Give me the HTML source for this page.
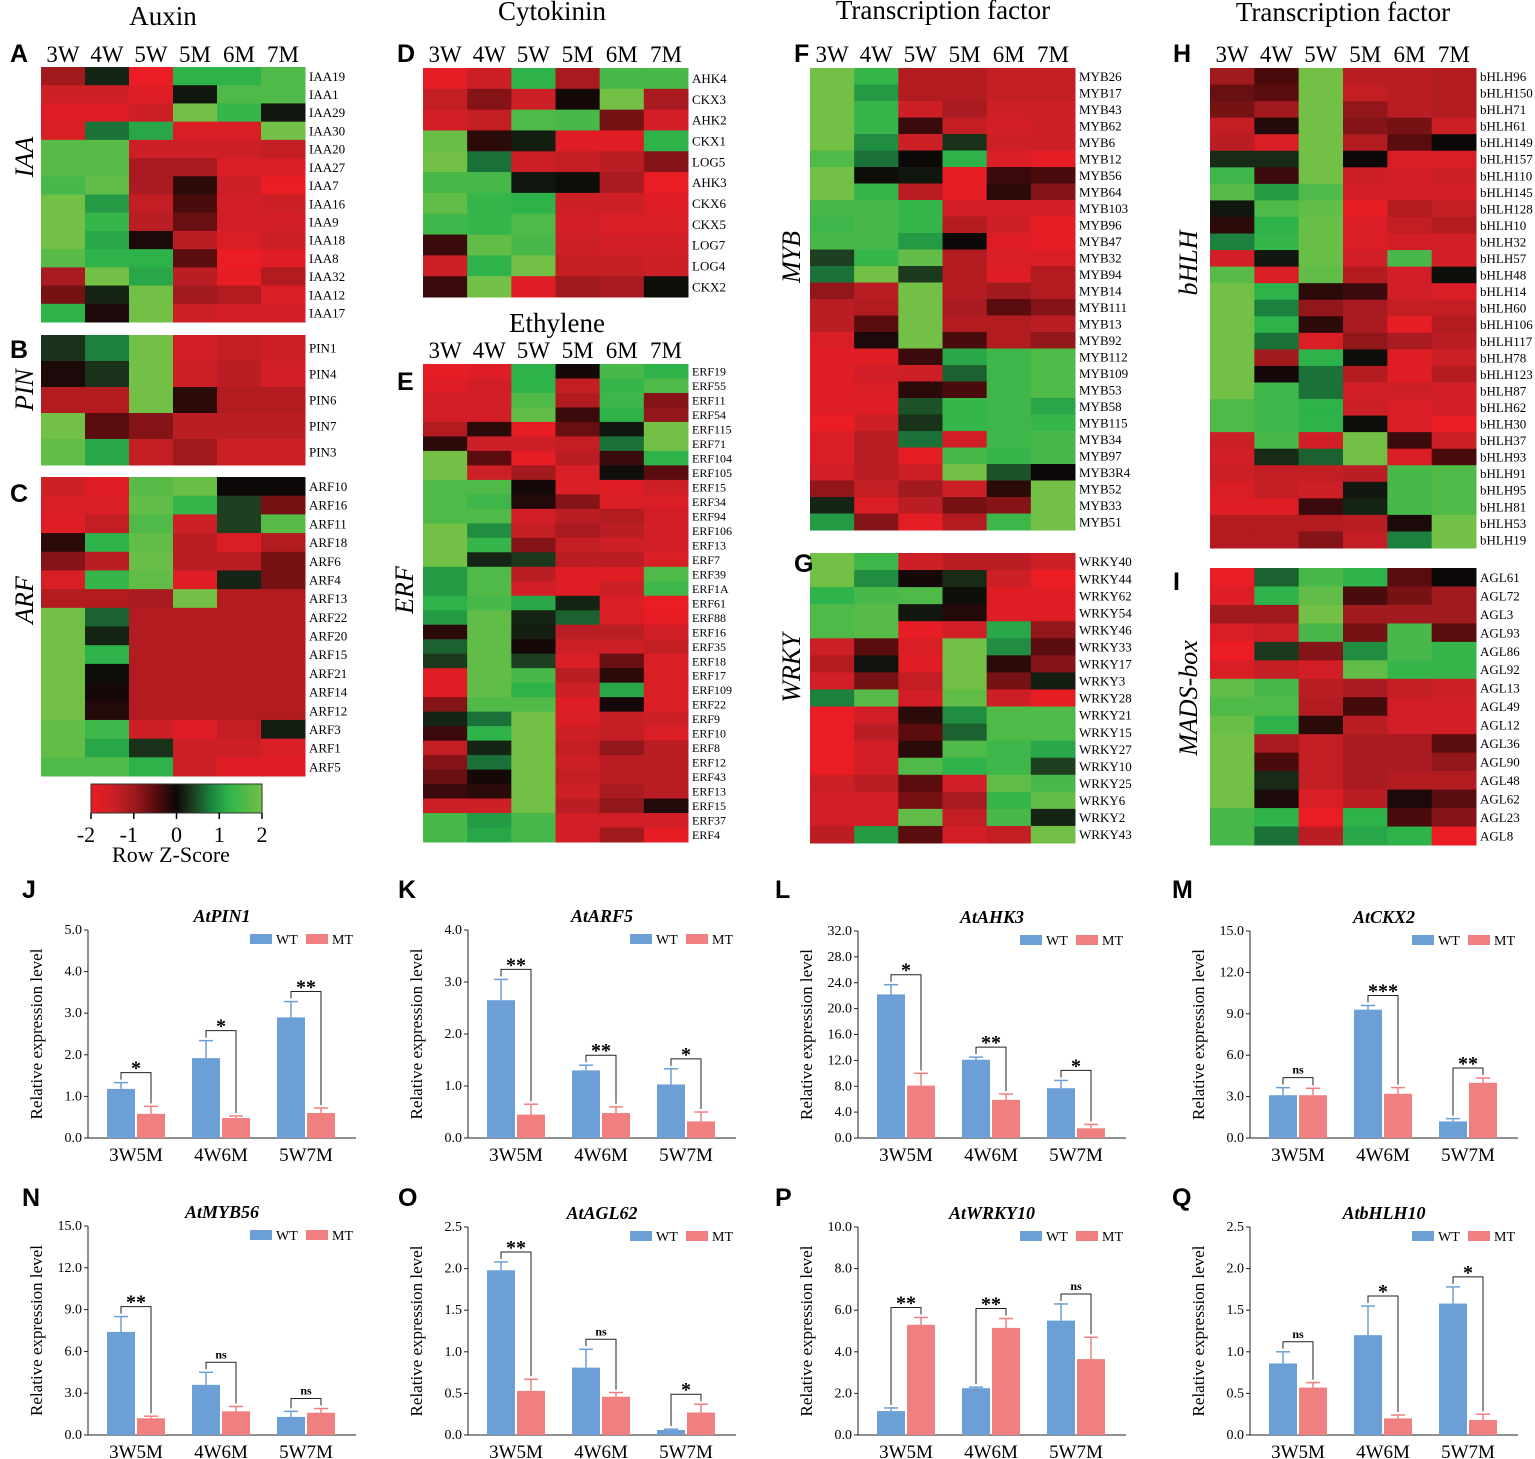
<!DOCTYPE html>
<html><head><meta charset="utf-8"><style>
body{margin:0;background:#fff}
svg{display:block;font-family:"Liberation Serif",serif}
.let{font-family:"Liberation Sans",sans-serif;font-weight:bold;font-size:25px}
</style></head><body>
<svg id="fig" width="1535" height="1459" viewBox="0 0 1535 1459" xmlns="http://www.w3.org/2000/svg"></svg>
<script>
const timeCols=["3W","4W","5W","5M","6M","7M"];
const iaaGenes=["IAA19","IAA1","IAA29","IAA30","IAA20","IAA27","IAA7","IAA16","IAA9","IAA18","IAA8","IAA32","IAA12","IAA17"];
const iaaValues=[[-1,0.2,-2,1.2,1.2,1.6],[-1.5,-1.5,-1.8,0.1,1.6,1.6],[-1.8,-1.8,-1.5,2,1.3,0.1],[-1.7,0.7,1.1,-1.7,-1.7,2],[1.7,1.7,-1.5,-1.5,-1.5,-1.4],[1.7,1.7,-1.1,-1.1,-1.7,-1.7],[1.5,1.8,-1.1,-0.2,-1.5,-2],[2,1,-1.4,-0.4,-1.6,-1.5],[2,1.3,-1.3,-0.6,-1.6,-1.6],[2,1.1,-0.1,-1.3,-1.7,-1.5],[1.7,1.2,1.2,-0.5,-2,-1.8],[-1.1,2,1.1,-1.3,-1.9,-1.2],[-0.7,0.2,2,-1,-1.2,-1.7],[1.2,-0.1,2,-1.5,-1.6,-1.6]];
const pinGenes=["PIN1","PIN4","PIN6","PIN7","PIN3"];
const pinValues=[[0.3,0.8,2,-1.6,-1.4,-1.5],[-0.1,0.3,2,-1.5,-1.3,-1.6],[-1.2,-1.2,2,-0.2,-1.2,-1.2],[2,-0.5,-0.8,-1.3,-1.3,-1.3],[1.8,1.1,-1.4,-1,-1.5,-1.5]];
const arfGenes=["ARF10","ARF16","ARF11","ARF18","ARF6","ARF4","ARF13","ARF22","ARF20","ARF15","ARF21","ARF14","ARF12","ARF3","ARF1","ARF5"];
const arfValues=[[-1.5,-1.8,1.7,1.9,0,0],[-1.7,-1.7,1.8,1.3,0.4,-0.7],[-1.8,-1.4,1.6,-1.5,0.4,1.7],[-0.2,1.2,1.8,-1.3,-1.7,-1.2],[-0.8,-1.3,1.9,-1.3,-1.3,-0.7],[-1.7,1.3,1.8,-1.8,0.2,-0.7],[-1.2,-1.2,-1.1,2,-1.2,-1.2],[2,0.6,-1.2,-1.2,-1.2,-1.2],[2,0.2,-1.2,-1.2,-1.2,-1.2],[2,1.2,-1.2,-1.2,-1.2,-1.2],[2,0.05,-1.2,-1.2,-1.2,-1.2],[2,-0.05,-1.2,-1.2,-1.2,-1.2],[2,-0.15,-1.2,-1.2,-1.2,-1.2],[1.8,1.4,-1.5,-1.8,-1.4,0.15],[1.8,1.1,0.3,-1.5,-1.5,-1.7],[1.6,1.6,1.2,-1.5,-1.8,-1.8]];
const ckGenes=["AHK4","CKX3","AHK2","CKX1","LOG5","AHK3","CKX6","CKX5","LOG7","LOG4","CKX2"];
const ckValues=[[-1.9,-1.5,1.2,-1.1,1.5,1.5],[-1.4,-0.8,-1.5,-0.05,2,-1.1],[-1.6,-1.4,1.6,1.5,-0.7,-1.6],[1.9,-0.2,0.15,-1.8,-1.8,1.2],[2,0.7,-1.5,-1.4,-1.3,-0.8],[1.5,1.5,0.1,0.05,-1.1,-2],[1.8,1.3,1.2,-1.5,-1.5,-1.8],[1.4,1.3,1.6,-1.6,-1.7,-1.7],[-0.3,1.8,1.5,-1.5,-1.6,-1.6],[-1.5,1.2,2,-1.4,-1.4,-1.5],[-0.3,2,-1.8,-1,-1.1,0.05]];
const erfGenes=["ERF19","ERF55","ERF11","ERF54","ERF115","ERF71","ERF104","ERF105","ERF15","ERF34","ERF94","ERF106","ERF13","ERF7","ERF39","ERF1A","ERF61","ERF88","ERF16","ERF35","ERF18","ERF17","ERF109","ERF22","ERF9","ERF10","ERF8","ERF12","ERF43","ERF13","ERF15","ERF37","ERF4"];
const erfValues=[[-1.9,-1.8,1.2,-0.05,1.5,1.2],[-1.8,-1.6,1.2,-1.4,1.3,1.6],[-1.6,-1.6,1.6,-1.2,1.4,-0.8],[-1.6,-1.6,1.8,-0.3,1.2,-0.9],[-1.2,-0.2,-1.9,-0.6,0.1,2],[-0.2,-1.5,-1.5,-1.4,0.7,2],[2,-0.5,-1.9,-1.3,-0.3,1.2],[2,-1.5,-1,-1.7,0.05,-0.5],[1.6,1.6,-0.05,-1.7,-1.8,-1.5],[1.6,1.4,-0.15,-0.8,-1.7,-1.7],[1.6,1.6,-1.6,-1.3,-1.2,-1.6],[2,0.9,-1.4,-1.1,-1.3,-1.6],[2,1.3,-0.8,-1.4,-1.5,-1.6],[2,0.2,0.35,-1.3,-1.3,-1.7],[1,1.6,-1.3,-1.8,-1.8,1.6],[1,1.6,-1.6,-1.8,-1.5,1.4],[1.2,1.5,1.1,0.2,-1.7,-2],[1,1.8,0.2,0.6,-1.7,-1.9],[-0.2,1.8,0.15,-1.3,-1.3,-1.6],[0.6,1.8,-0.05,-1.5,-1.5,-1.4],[0.35,1.8,0.4,-1.7,-0.6,-1.7],[-1.8,1.8,1.5,-1.3,-0.2,-1.7],[-1.8,1.8,1.2,-1.5,1.1,-1.7],[-0.8,1.6,1.6,-1.8,-0.05,-1.7],[0.2,0.7,2,-1.7,-1.4,-1.5],[-0.3,1.2,2,-1.5,-1.4,-1.7],[-1.4,0.2,2,-1.4,-0.9,-1.3],[-0.8,0.7,2,-1.5,-1.3,-1.3],[-0.6,-0.05,2,-1.4,-1.3,-1.3],[-0.3,-0.2,2,-1.5,-1.1,-1.3],[-1.5,-1.5,2,-1.3,-0.9,-0.15],[1.5,1,1.5,-1.6,-1.6,-1.6],[1.5,1.1,1.5,-1.6,-1,-1.9]];
const mybGenes=["MYB26","MYB17","MYB43","MYB62","MYB6","MYB12","MYB56","MYB64","MYB103","MYB96","MYB47","MYB32","MYB94","MYB14","MYB111","MYB13","MYB92","MYB112","MYB109","MYB53","MYB58","MYB115","MYB34","MYB97","MYB3R4","MYB52","MYB33","MYB51"];
const mybValues=[[2,1.3,-1.2,-1.2,-1.4,-1.4],[2,1,-1.2,-1.2,-1.4,-1.4],[2,1.3,-1.5,-1.1,-1.5,-1.5],[2,1.3,-0.3,-1.4,-1.6,-1.5],[2,0.9,-1.5,0.3,-1.5,-1.5],[1.6,0.7,0,1.2,-1.7,-1.9],[2,0.05,0.1,-1.9,-0.3,-0.4],[2,1.3,-1.3,-1.9,-0.2,-0.8],[1.5,1.5,1.3,-1.6,-1.6,-1.6],[1.4,1.5,1.3,-1.2,-1.5,-1.9],[1.5,1.5,1,0,-1.8,-1.9],[0.4,1.3,1.8,-1.2,-1.7,-1.7],[0.7,2,0.35,-1.2,-1.8,-1.2],[-0.9,-1.3,2,-1.2,-1,-1.2],[-1.3,-1.2,2,-1.1,-0.5,-0.8],[-1.3,-0.5,2,-1.2,-1.2,-1.3],[-1.7,-0.1,2,-0.4,-1.2,-0.9],[-1.8,-1.8,-0.3,1.1,1.4,1.6],[-1.8,-1.6,-1.5,0.6,1.4,1.6],[-1.8,-1.7,-0.2,-0.4,1.4,1.6],[-1.8,-1.8,0.5,1.3,1.4,1.1],[-2,-1.5,0.3,1.3,1.4,1.3],[-1.7,-1.3,0.7,-1.6,1.4,1.5],[-1.7,-1.3,-1.9,1.5,1.3,1.5],[-1.6,-1.3,-1.5,2,0.5,0],[-0.9,-1.4,-1,-1.5,-0.2,2],[0.2,-1.7,-1.3,-0.7,-0.8,2],[1,-0.8,-1.9,-1.2,1.4,2]];
const wrkyGenes=["WRKY40","WRKY44","WRKY62","WRKY54","WRKY46","WRKY33","WRKY17","WRKY3","WRKY28","WRKY21","WRKY15","WRKY27","WRKY10","WRKY25","WRKY6","WRKY2","WRKY43"];
const wrkyValues=[[2,1.4,-1.5,-1.3,-1.3,-1.5],[2,0.9,-0.05,0.25,-1.5,-2],[1.2,1.5,1.6,0.05,-1.8,-1.8],[1.6,1.7,0.1,-0.15,-1.8,-1.8],[1.6,1.7,-1.9,-1.6,1.1,-0.9],[-1.5,-0.5,-1.7,2,0.9,-0.5],[-1.2,0.08,-1.8,2,-0.2,-0.8],[-1.6,-0.7,-1.4,2,-0.7,0.15],[0.8,1.7,-1.6,1.8,-1.5,-1.9],[-2,-1.6,-0.2,0.9,1.6,1.6],[-2,-1.3,-0.5,0.6,1.6,1.6],[-2,-1.6,-0.2,1.6,1.4,1.1],[-2,-1.6,1.6,1.2,1.4,0.4],[-1.5,-1.3,-0.5,-1.6,1.8,1.5],[-1.6,-1.6,-0.7,-1.1,1.3,1.8],[-1.6,-1.6,1.8,-1.4,1.5,0.2],[-1.3,1,-0.5,-1.6,-1.4,2]];
const bhlhGenes=["bHLH96","bHLH150","bHLH71","bHLH61","bHLH149","bHLH157","bHLH110","bHLH145","bHLH128","bHLH10","bHLH32","bHLH57","bHLH48","bHLH14","bHLH60","bHLH106","bHLH117","bHLH78","bHLH123","bHLH87","bHLH62","bHLH30","bHLH37","bHLH93","bHLH91","bHLH95","bHLH81","bHLH53","bHLH19"];
const bhlhValues=[[-1,-0.4,2,-1.3,-1.3,-1.2],[-0.6,-0.5,2,-1.4,-1.3,-1.2],[-0.7,-1,2,-0.9,-1.3,-1.2],[-1.4,-0.15,2,-0.8,-0.7,-1.5],[-1.3,-1.7,2,-1.2,-0.5,0],[0.25,0.25,2,0,-1.7,-1.7],[1.4,-0.3,2,-1.5,-1.6,-1.5],[1.7,1,1.6,-1.6,-1.6,-1.6],[0.1,1.6,1.8,-1.9,-1.2,-1.4],[-0.2,1.2,1.9,-1.7,-1.4,-1.2],[0.8,1.3,1.9,-1.7,-1.6,-1.6],[-1.6,0.1,1.9,-1.6,1.5,-1.6],[1.7,-1.7,1.8,-1.2,-1.6,0.05],[2,1.2,-0.2,-0.3,-1.6,-1.7],[2,0.8,-0.9,-1.1,-1.4,-1.4],[2,1.2,-0.2,-1.1,-1.9,-1.2],[2,0.7,-1.7,-0.9,-1.1,-1.3],[2,-1,1.2,0.05,-1.8,-1.5],[2,-0.05,0.7,-1.2,-1.8,-1.2],[2,1.4,0.7,-1.6,-1.5,-1.6],[1.6,1.4,1.2,-1.5,-1.7,-1.6],[1.6,1.4,1.2,0.05,-1.7,-2],[-1.5,1.5,-1.6,2,-0.3,-1.5],[-1.6,0.25,0.6,2,-1.7,-0.4],[-1.5,-1.4,-1.4,-1.3,1.5,1.6],[-1.7,-1.4,-1.5,0.1,1.5,1.6],[-1.8,-1.8,-0.3,0.2,1.5,1.6],[-1.2,-1.2,-1.2,-1.3,-0.1,2],[-1.2,-1.2,-0.8,-1.4,0.8,2]];
const madsGenes=["AGL61","AGL72","AGL3","AGL93","AGL86","AGL92","AGL13","AGL49","AGL12","AGL36","AGL90","AGL48","AGL62","AGL23","AGL8"];
const madsValues=[[-2,0.6,1.5,1.2,-0.5,0],[-1.8,1.2,1.8,-0.4,-0.7,-1],[-1,-1,2,-1,-1,-1],[-1.7,-1.5,1.5,-0.7,1.5,-0.5],[-2,0.35,-0.8,0.9,1.5,1.3],[-1.7,-1.4,-1.6,1.8,1.3,1.3],[1.8,1.5,-1.3,-1.1,-1.4,-1.5],[1.6,1.6,-1.2,-0.35,-1.6,-1.6],[1.9,1.2,-0.2,-1.3,-1.6,-1.6],[2,-1.1,-1.4,-1.1,-1.1,-0.5],[2,-0.4,-1.4,-1.1,-1.1,-0.9],[2,0.25,-1.4,-1.1,-1.2,-1.2],[2,-0.1,-1.7,-1.3,-0.1,-0.5],[1.5,1.2,-2,1.2,-0.4,-0.8],[1.5,0.7,-1.3,1.1,1.2,-2]];

const barGroups=["3W5M","4W6M","5W7M"];
const pin1WT=[1.18,1.92,2.9], pin1WTerr=[0.15,0.42,0.38], pin1MT=[0.58,0.48,0.6], pin1MTerr=[0.18,0.05,0.12], pin1Sig=["*","*","**"];
const arf5WT=[2.65,1.3,1.03], arf5WTerr=[0.4,0.1,0.3], arf5MT=[0.45,0.48,0.32], arf5MTerr=[0.2,0.12,0.18], arf5Sig=["**","**","*"];
const ahk3WT=[22.2,12.1,7.7], ahk3WTerr=[1.5,0.4,1.2], ahk3MT=[8.1,5.9,1.5], ahk3MTerr=[1.9,0.9,0.6], ahk3Sig=["*","**","*"];
const ckx2WT=[3.1,9.3,1.2], ckx2WTerr=[0.55,0.3,0.2], ckx2MT=[3.1,3.2,4.0], ckx2MTerr=[0.5,0.45,0.35], ckx2Sig=["ns","***","**"];
const myb56WT=[7.4,3.6,1.3], myb56WTerr=[1.1,0.9,0.4], myb56MT=[1.2,1.7,1.6], myb56MTerr=[0.15,0.35,0.3], myb56Sig=["**","ns","ns"];
const agl62WT=[1.98,0.81,0.06], agl62WTerr=[0.1,0.22,0.01], agl62MT=[0.53,0.46,0.27], agl62MTerr=[0.14,0.05,0.1], agl62Sig=["**","ns","*"];
const wrky10WT=[1.15,2.25,5.5], wrky10WTerr=[0.15,0.05,0.8], wrky10MT=[5.3,5.15,3.65], wrky10MTerr=[0.35,0.45,1.05], wrky10Sig=["**","**","ns"];
const bhlh10WT=[0.86,1.2,1.58], bhlh10WTerr=[0.14,0.35,0.2], bhlh10MT=[0.57,0.2,0.18], bhlh10MTerr=[0.06,0.04,0.07], bhlh10Sig=["ns","*","*"];

const NS="http://www.w3.org/2000/svg";
const svg=document.getElementById('fig');
function el(tag,attrs,parent,txt){const e=document.createElementNS(NS,tag);for(const k in attrs)e.setAttribute(k,attrs[k]);if(txt!==undefined)e.textContent=txt;(parent||svg).appendChild(e);return e;}
const stops=[[-2,[236,28,36]],[-1.5,[204,31,38]],[-1,[160,26,30]],[-0.5,[90,12,14]],[0,[12,8,8]],[0.4,[30,64,32]],[0.75,[26,122,60]],[1.2,[45,179,74]],[2,[114,192,70]]];
function zColor(z){z=Math.max(-2,Math.min(2,z));for(let i=0;i<stops.length-1;i++){const a=stops[i],b=stops[i+1];if(z<=b[0]){const t=(z-a[0])/(b[0]-a[0]);const c=a[1].map((v,j)=>Math.round(v+(b[1][j]-v)*t));return `rgb(${c})`;}}return 'rgb(114,192,70)';}

function heatmap(name,genes,vals,x,y,w,h,fs){
  const g=el('g',{},svg);
  
  
  const cw=w/6,rh=h/genes.length;
  vals.forEach((row,i)=>row.forEach((v,j)=>{
    const r=el('rect',{x:x+j*cw,y:y+i*rh,width:cw+0.5,height:rh+0.5,fill:zColor(v)},g);
    
    
  }));
  genes.forEach((gn,i)=>{
    const t=el('text',{x:x+w+4,y:y+(i+0.5)*rh+fs*0.36,'font-size':fs},g,gn);
    
    
  });
}
function colHeader(x,w,y){
  const cw=w/6;
  timeCols.forEach((c,j)=>{const t=el('text',{x:x+(j+0.5)*cw,y:y,'font-size':23,'text-anchor':'middle'},svg,c);
    
    });
}
function txt(s,x,y,fs,name,extra){const t=el('text',Object.assign({x:x,y:y,'font-size':fs},extra||{}),svg,s);
  
  return t;}
function vlabel(s,x,y,name){const t=el('text',{x:0,y:0,'font-size':26,'font-style':'italic','text-anchor':'middle',transform:`translate(${x},${y}) rotate(-90)`},svg,s);
  
  }
function letter(s,x,y){const t=el('text',{x:x,y:y,class:'let'},svg,s);
  
  }

txt("Auxin",163,25,27,"auxin-title",{'text-anchor':'middle'});
txt("Cytokinin",552,20,27,"cytokinin-title",{'text-anchor':'middle'});
txt("Ethylene",557,332,27,"ethylene-title",{'text-anchor':'middle'});
txt("Transcription factor",943,19,27,"tf-title-1",{'text-anchor':'middle'});
txt("Transcription factor",1343,21,27,"tf-title-2",{'text-anchor':'middle'});
colHeader(41,264,62);colHeader(423,265,62);colHeader(423,265,358);colHeader(810,265,62);colHeader(1210,266,62);

heatmap('heatmap-iaa',iaaGenes,iaaValues,41,67,264,255,13);
heatmap('heatmap-pin',pinGenes,pinValues,41,335,264,130,13);
heatmap('heatmap-arf',arfGenes,arfValues,41,477,264,299,13);
heatmap('heatmap-cytokinin',ckGenes,ckValues,423,68,265,229,13);
heatmap('heatmap-erf',erfGenes,erfValues,423,364,265,478,12);
heatmap('heatmap-myb',mybGenes,mybValues,810,68,265,462,13);
heatmap('heatmap-wrky',wrkyGenes,wrkyValues,810,553,265,290,13);
heatmap('heatmap-bhlh',bhlhGenes,bhlhValues,1210,68,266,480,13);
heatmap('heatmap-mads',madsGenes,madsValues,1210,568,266,277,13);

vlabel("IAA",33,157,"iaa-group-label");vlabel("PIN",33,390,"pin-group-label");vlabel("ARF",33,600,"arf-group-label");
vlabel("ERF",413,590,"erf-group-label");vlabel("MYB",800,257,"myb-group-label");vlabel("WRKY",800,668,"wrky-group-label");
vlabel("bHLH",1197,263,"bhlh-group-label");vlabel("MADS-box",1197,698,"mads-group-label");
[["A",10,62],["B",10,358],["C",10,502],["D",397,62],["E",397,390],["F",794,62],["G",794,572],["H",1173,62],["I",1173,590]].forEach(a=>letter(...a));

const defs=el('defs',{});
const lg=el('linearGradient',{id:'zg',x1:0,x2:1,y1:0,y2:0},defs);
for(let z=-2;z<=2.001;z+=0.25){el('stop',{offset:((z+2)/4*100)+'%','stop-color':zColor(z)},lg);}
const cb=el('rect',{x:91,y:784,width:171,height:29,fill:'url(#zg)',stroke:'#333','stroke-width':1});


[-2,-1,0,1,2].forEach(v=>{const xx=91+(v+2)/4*171;el('line',{x1:xx,x2:xx,y1:813,y2:819,stroke:'#000','stroke-width':1.5});
  txt(String(v),xx-(v<0?5:0),842,22,'colorbar-tick',{'text-anchor':'middle'});});
txt("Row Z-Score",171,862,22,"colorbar-title",{'text-anchor':'middle'});

function barChart(o){
  const g=el('g',{},svg);
  
  
  const x0=o.x0,yb=o.yb,yt=o.yt;
  const ys=v=>yb-v/o.max*(yb-yt);
  const xs=i=>x0+48+i*85;
  el('line',{x1:x0,x2:x0,y1:yt,y2:yb,stroke:'#222','stroke-width':1},g);
  el('line',{x1:x0,x2:x0+268,y1:yb,y2:yb,stroke:'#222','stroke-width':1},g);
  for(let k=0;k<=o.nt;k++){const v=o.max/o.nt*k,yy=ys(v);
    el('line',{x1:x0-4,x2:x0,y1:yy,y2:yy,stroke:'#222'},g);
    const t=el('text',{x:x0-6,y:yy+4,'font-size':14,'text-anchor':'end'},g,v.toFixed(1));
    
    }
  const yl=el('text',{x:0,y:0,'font-size':17,'text-anchor':'middle',transform:`translate(${x0-46},${(yt+yb)/2}) rotate(-90)`},g,'Relative expression level');
  
  
  const ti=el('text',{x:x0+134,y:yt-8,'font-size':18,'font-style':'italic','font-weight':'bold','text-anchor':'middle'},g,o.title);
  
  
  const l1=el('rect',{x:x0+162,y:yt+4,width:22,height:10,fill:'#6b9fd6'},g);
  
  
  el('text',{x:x0+188,y:yt+14,'font-size':14},g,'WT');
  const l2=el('rect',{x:x0+218,y:yt+4,width:22,height:10,fill:'#f08080'},g);
  
  
  el('text',{x:x0+244,y:yt+14,'font-size':14},g,'MT');
  barGroups.forEach((lab,i)=>{
    const c=xs(i);
    [[o.wt[i],o.wte[i],c-29,'#6b9fd6','bar-wt'],[o.mt[i],o.mte[i],c+1,'#f08080','bar-mt']].forEach(b=>{
      const r=el('rect',{x:b[2],y:ys(b[0]),width:28,height:yb-ys(b[0]),fill:b[3]},g);
      
      
      const cx=b[2]+14,ye=ys(b[0]+b[1]);
      el('line',{x1:cx,x2:cx,y1:ys(b[0]),y2:ye,stroke:b[3],'stroke-width':1.5},g);
      el('line',{x1:cx-7,x2:cx+7,y1:ye,y2:ye,stroke:b[3],'stroke-width':1.5},g);
    });
    const yw=ys(o.wt[i]+o.wte[i]),ym=ys(o.mt[i]+o.mte[i]);
    const by=Math.min(yw,ym)-10;
    el('polyline',{points:`${c-15},${yw-3} ${c-15},${by} ${c+15},${by} ${c+15},${ym-3}`,fill:'none',stroke:'#222','stroke-width':1},g);
    const st=el('text',{x:c,y:o.sig[i]=='ns'?by-4:by+2,'font-size':o.sig[i]=='ns'?12:20,'font-weight':'bold','text-anchor':'middle'},g,o.sig[i]);
    
    
    const xl=el('text',{x:c,y:yb+23,'font-size':19,'text-anchor':'middle'},g,lab);
    
    
  });
}
barChart({name:'chart-atpin1',x0:88,yb:1138,yt:930,max:5,nt:5,title:'AtPIN1',wt:pin1WT,wte:pin1WTerr,mt:pin1MT,mte:pin1MTerr,sig:pin1Sig});
barChart({name:'chart-atarf5',x0:468,yb:1138,yt:930,max:4,nt:4,title:'AtARF5',wt:arf5WT,wte:arf5WTerr,mt:arf5MT,mte:arf5MTerr,sig:arf5Sig});
barChart({name:'chart-atahk3',x0:858,yb:1138,yt:931,max:32,nt:8,title:'AtAHK3',wt:ahk3WT,wte:ahk3WTerr,mt:ahk3MT,mte:ahk3MTerr,sig:ahk3Sig});
barChart({name:'chart-atckx2',x0:1250,yb:1138,yt:931,max:15,nt:5,title:'AtCKX2',wt:ckx2WT,wte:ckx2WTerr,mt:ckx2MT,mte:ckx2MTerr,sig:ckx2Sig});
barChart({name:'chart-atmyb56',x0:88,yb:1435,yt:1226,max:15,nt:5,title:'AtMYB56',wt:myb56WT,wte:myb56WTerr,mt:myb56MT,mte:myb56MTerr,sig:myb56Sig});
barChart({name:'chart-atagl62',x0:468,yb:1435,yt:1227,max:2.5,nt:5,title:'AtAGL62',wt:agl62WT,wte:agl62WTerr,mt:agl62MT,mte:agl62MTerr,sig:agl62Sig});
barChart({name:'chart-atwrky10',x0:858,yb:1435,yt:1227,max:10,nt:5,title:'AtWRKY10',wt:wrky10WT,wte:wrky10WTerr,mt:wrky10MT,mte:wrky10MTerr,sig:wrky10Sig});
barChart({name:'chart-atbhlh10',x0:1250,yb:1435,yt:1227,max:2.5,nt:5,title:'AtbHLH10',wt:bhlh10WT,wte:bhlh10WTerr,mt:bhlh10MT,mte:bhlh10MTerr,sig:bhlh10Sig});
[["J",22,898],["K",398,898],["L",775,898],["M",1172,898],["N",22,1206],["O",398,1206],["P",775,1206],["Q",1172,1206]].forEach(a=>letter(...a));
</script>
</body></html>
